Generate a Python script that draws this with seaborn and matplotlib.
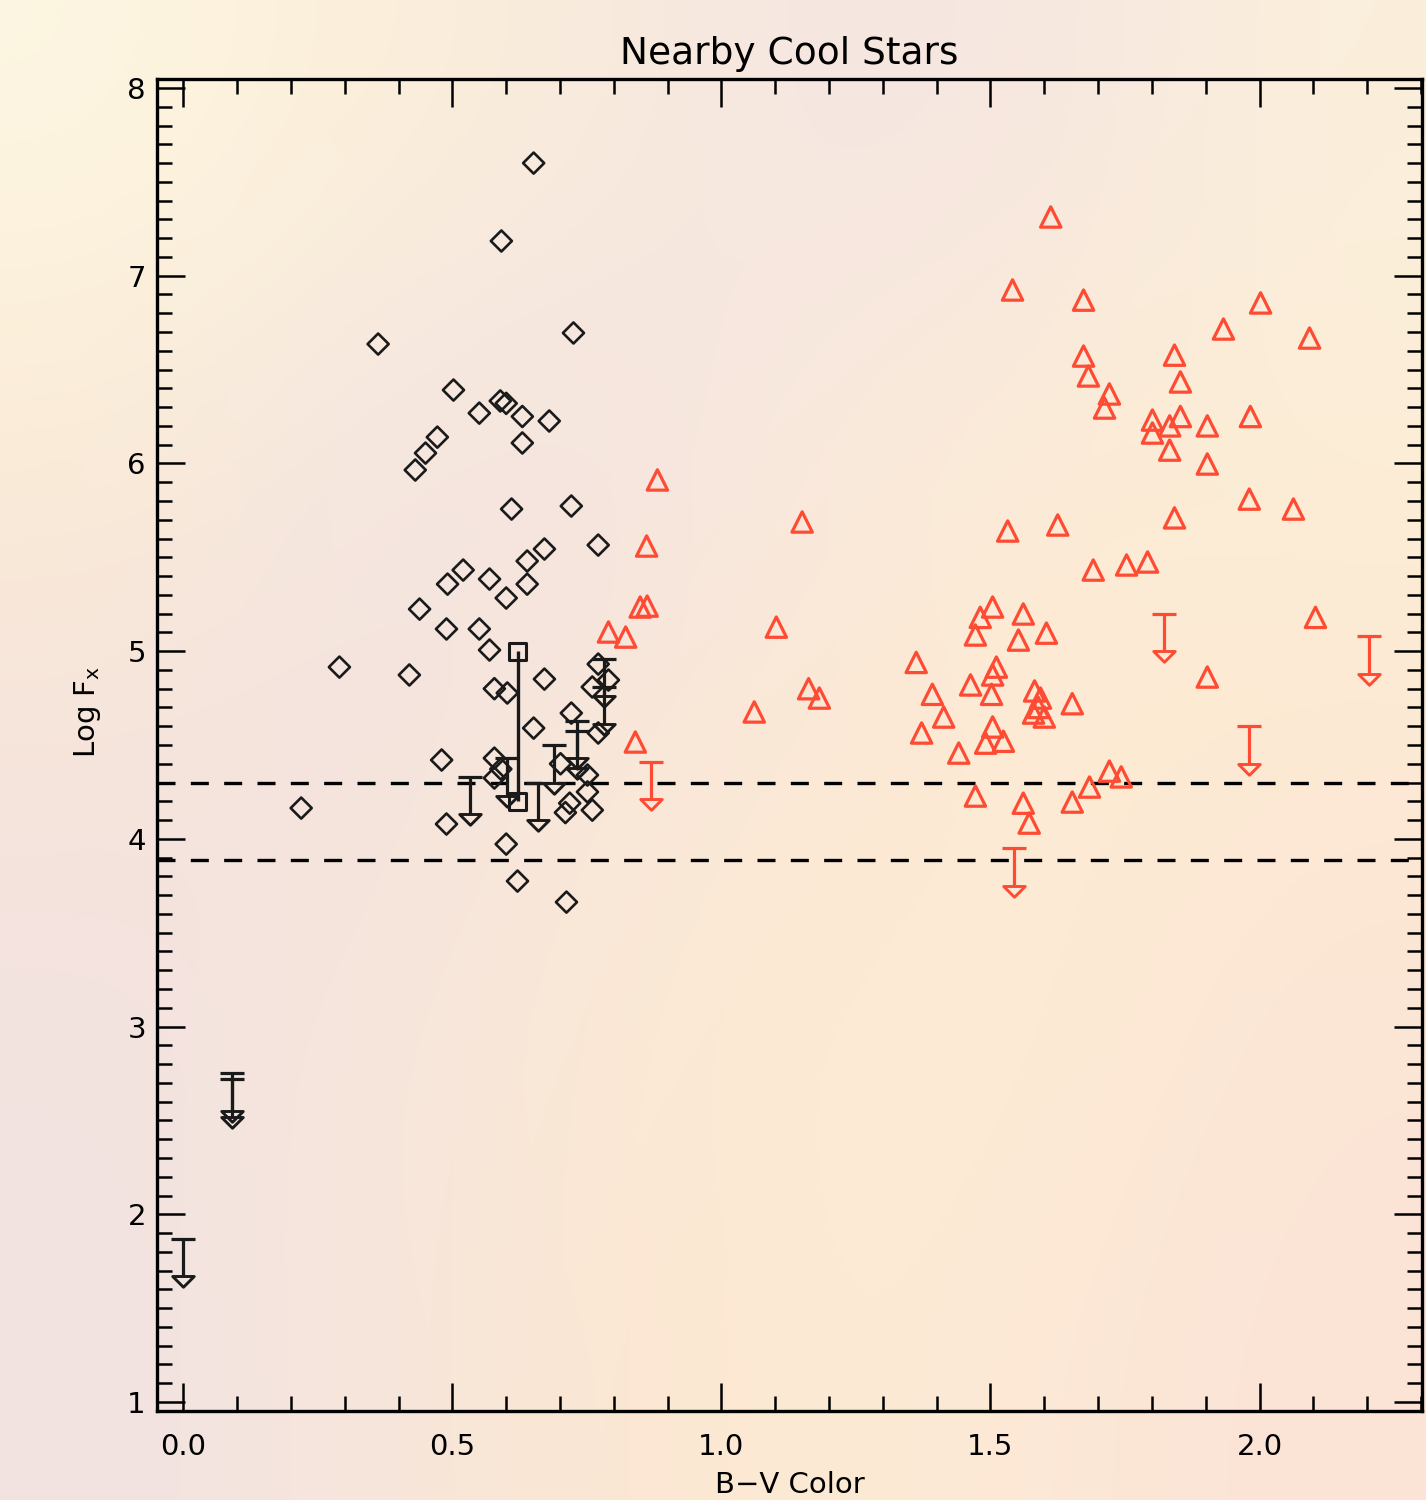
import numpy as np
import pandas as pd
import matplotlib
matplotlib.use("Agg")
import matplotlib.pyplot as plt
from matplotlib.path import Path
from matplotlib.ticker import MultipleLocator, FixedLocator, FixedFormatter
from matplotlib.colors import to_rgb
import seaborn as sns

# ---------------- data ----------------
# black diamonds (B-V, log Fx)
diam_bv = [0.651, 0.591, 0.362, 0.725, 0.502, 0.550, 0.589, 0.600, 0.630, 0.680,
           0.630, 0.472, 0.450, 0.431, 0.610, 0.721, 0.771, 0.671, 0.639, 0.520,
           0.491, 0.569, 0.639, 0.600, 0.439, 0.489, 0.550, 0.569, 0.290, 0.420,
           0.578, 0.602, 0.671, 0.771, 0.790, 0.760, 0.721, 0.651, 0.771, 0.480,
           0.578, 0.590, 0.578, 0.701, 0.751, 0.751, 0.718, 0.710, 0.760, 0.219,
           0.489, 0.600, 0.621, 0.712]
diam_fx = [7.60, 7.185, 6.636, 6.695, 6.391, 6.268, 6.333, 6.320, 6.250, 6.226,
           6.109, 6.140, 6.055, 5.965, 5.757, 5.773, 5.565, 5.544, 5.480, 5.432,
           5.357, 5.384, 5.357, 5.283, 5.224, 5.118, 5.118, 5.006, 4.915, 4.873,
           4.800, 4.777, 4.851, 4.931, 4.846, 4.809, 4.670, 4.590, 4.564, 4.420,
           4.430, 4.372, 4.324, 4.400, 4.340, 4.250, 4.190, 4.140, 4.153, 4.164,
           4.079, 3.972, 3.775, 3.663]

# red triangles (B-V, log Fx)
tri_bv = [0.881, 1.150, 0.861, 0.849, 0.862, 0.790, 0.822, 1.102, 1.162, 1.182,
          1.061, 0.840,
          1.504, 1.481, 1.472, 1.561, 1.552, 1.604, 1.362, 1.511, 1.504, 1.463,
          1.502, 1.392, 1.582, 1.593, 1.580, 1.600, 1.589, 1.652, 1.413, 1.372,
          1.504, 1.491, 1.524, 1.441, 1.472, 1.561, 1.572, 1.652, 1.684, 1.721,
          1.743,
          1.612, 1.541, 1.673, 2.002, 1.933, 2.093, 1.673, 1.682, 1.842, 1.853,
          1.721, 1.712, 1.801, 1.801, 1.833, 1.853, 1.903, 1.983, 1.833, 1.903,
          1.981, 2.063, 1.842, 1.532, 1.625, 1.691, 1.753, 1.792, 2.104, 1.903]
tri_fx = [5.912, 5.688, 5.560, 5.235, 5.240, 5.102, 5.075, 5.128, 4.800, 4.750,
          4.676, 4.516,
          5.235, 5.180, 5.086, 5.198, 5.059, 5.096, 4.940, 4.915, 4.873, 4.820,
          4.770, 4.770, 4.788, 4.750, 4.670, 4.649, 4.700, 4.720, 4.649, 4.564,
          4.596, 4.510, 4.520, 4.457, 4.228, 4.190, 4.084, 4.196, 4.276, 4.361,
          4.330,
          7.313, 6.924, 6.870, 6.855, 6.716, 6.668, 6.572, 6.466, 6.577, 6.434,
          6.370, 6.295, 6.231, 6.162, 6.200, 6.250, 6.200, 6.250, 6.071, 5.997,
          5.810, 5.757, 5.710, 5.640, 5.672, 5.432, 5.459, 5.475, 5.180, 4.862]

# upper limits (B-V, log Fx limit)
ul_black_bv = [0.000, 0.090, 0.090, 0.532, 0.602, 0.659, 0.689, 0.732, 0.732, 0.781, 0.781]
ul_black_fx = [1.87, 2.75, 2.72, 4.33, 4.43, 4.30, 4.50, 4.63, 4.575, 4.96, 4.81]
ul_red_bv = [0.870, 1.543, 1.822, 1.981, 2.203]
ul_red_fx = [4.41, 3.95, 5.20, 4.60, 5.08]

# variable star range (squares joined by a bar)
range_bv = [0.621]
range_lo = [4.20]
range_hi = [5.00]

# threshold lines
thresholds = [4.30, 3.89]

x_ticks = [0.0, 0.5, 1.0, 1.5, 2.0]
x_ticklabels = ["0.0", "0.5", "1.0", "1.5", "2.0"]
y_ticks = [1, 2, 3, 4, 5, 6, 7, 8]
y_ticklabels = ["1", "2", "3", "4", "5", "6", "7", "8"]

title = "Nearby Cool Stars"
xlabel = "B\u2212V Color"
ylabel = "Log F$_{\\rm x}$"

# ---------------- style ----------------
BLACK = "#1a1a1a"
RED = "#ff4b33"
plt.rcParams["font.family"] = ["DejaVu Sans"]
plt.rcParams["mathtext.default"] = "regular"

W, H = 1426, 1500
fig = plt.figure(figsize=(W / 100, H / 100), dpi=100)

# pastel background
bg_hex = [
    ["#fdf6e2", "#fcefd9", "#f9ebdd", "#f5e5e2", "#f7e8e0", "#fbefdc"],
    ["#fbebd5", "#f4e6e2", "#f3e3e0", "#faebdd", "#fcebd5", "#fceed6"],
    ["#f6e4dc", "#f3e3de", "#f9e7d9", "#fce8d5", "#fdebd3", "#fde9d3"],
    ["#f3e3e0", "#f6e6dc", "#fbe8d6", "#fdebd3", "#fdebd5", "#fbe5d6"],
    ["#f2e3e2", "#f6e6dc", "#fbe6d2", "#fdebd4", "#fce8d7", "#fbe3d6"],
]
bg = np.array([[to_rgb(c) for c in row] for row in bg_hex])
bgax = fig.add_axes([0, 0, 1, 1], zorder=-10)
bgax.imshow(bg, aspect="auto", interpolation="bicubic", extent=[0, 1, 0, 1])
bgax.set_axis_off()

ax = fig.add_axes([157 / W, 1 - 1411 / H, (1422 - 157) / W, (1411 - 79) / H])
ax.set_facecolor("none")

# threshold lines
for t in thresholds:
    ax.axhline(t, color="black", lw=2.4, linestyle=(0, (5.4, 4.6)), zorder=1)

# diamonds
sns.scatterplot(x=diam_bv, y=diam_fx, marker="D", s=115, color=BLACK,
                facecolor="none", edgecolor=BLACK, linewidth=1.9, ax=ax, zorder=3)
# triangles
sns.scatterplot(x=tri_bv, y=tri_fx, marker="^", s=215, color=RED,
                facecolor="none", edgecolor=RED, linewidth=2.3, ax=ax, zorder=3)

# range bar with squares
ax.vlines(range_bv, range_lo, range_hi, color=BLACK, lw=2.4, zorder=3)
sns.scatterplot(x=range_bv * 2, y=range_lo + range_hi, marker="s", s=150, color=BLACK,
                facecolor="none", edgecolor=BLACK, linewidth=2.2, ax=ax, zorder=4)

# upper limits
HEAD_DROP = 0.20
head_marker = Path([(-1, 0), (1, 0), (0, -1), (-1, 0)],
                   [Path.MOVETO, Path.LINETO, Path.LINETO, Path.CLOSEPOLY])


def upper_limits(xs, ys, col):
    xs = np.asarray(xs)
    ys = np.asarray(ys)
    ax.vlines(xs, ys - HEAD_DROP, ys, color=col, lw=2.3, zorder=3)
    ax.plot(xs, ys, ls="none", marker="_", ms=17, mew=2.3, color=col, zorder=3)
    ax.plot(xs, ys - HEAD_DROP, ls="none", marker=head_marker, ms=15.5,
            mfc="none", mec=col, mew=2.1, zorder=3)


upper_limits(ul_black_bv, ul_black_fx, BLACK)
upper_limits(ul_red_bv, ul_red_fx, RED)

# axes
ax.set_xlim(-0.049, 2.302)
ax.set_ylim(0.952, 8.048)
ax.xaxis.set_major_locator(FixedLocator(x_ticks))
ax.xaxis.set_major_formatter(FixedFormatter(x_ticklabels))
ax.yaxis.set_major_locator(FixedLocator(y_ticks))
ax.yaxis.set_major_formatter(FixedFormatter(y_ticklabels))
ax.xaxis.set_minor_locator(MultipleLocator(0.1))
ax.yaxis.set_minor_locator(MultipleLocator(0.1))
ax.tick_params(which="both", direction="in", top=True, right=True, colors="black")
ax.tick_params(which="major", length=20, width=1.8)
ax.tick_params(which="minor", length=10.5, width=1.8)
ax.tick_params(axis="x", which="major", labelsize=21, pad=16)
ax.tick_params(axis="y", which="major", labelsize=21, pad=8)
for sp in ax.spines.values():
    sp.set_linewidth(2.4)
    sp.set_color("black")

ax.set_title(title, fontsize=27, pad=11)
ax.set_xlabel(xlabel, fontsize=21)
ax.xaxis.set_label_coords(0.5, -0.045)
ax.set_ylabel(ylabel, fontsize=21)
ax.yaxis.set_label_coords(-0.043, 0.525)

fig.savefig("out.png", dpi=100)
